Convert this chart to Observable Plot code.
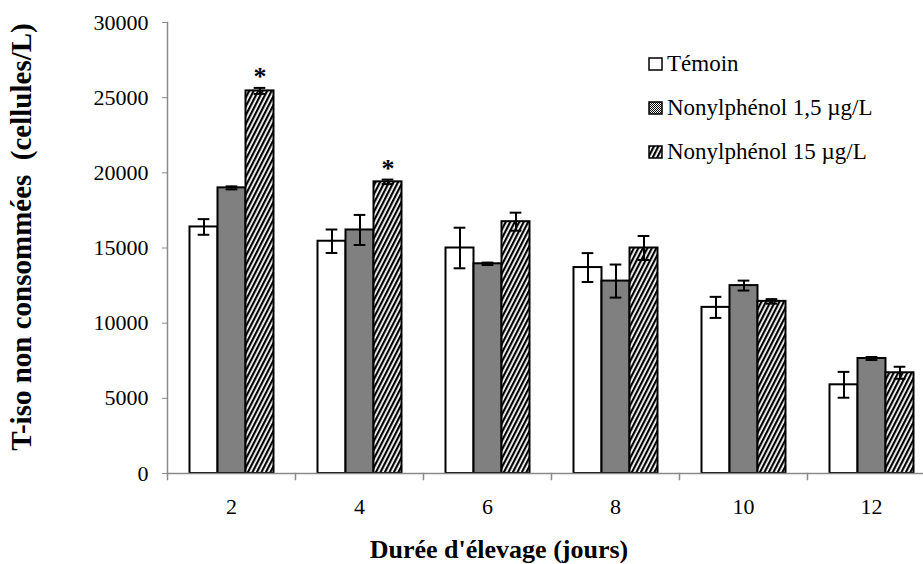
<!DOCTYPE html>
<html>
<head>
<meta charset="utf-8">
<script src="https://cdn.jsdelivr.net/npm/d3@7"></script>
<script src="https://cdn.jsdelivr.net/npm/@observablehq/plot@0.6"></script>
<style>
  html, body { margin: 0; padding: 0; background: #fff; overflow: hidden; }
  #chart { width: 923px; height: 564px; }
</style>
</head>
<body>
<div id="chart"></div>
<script>
// ---- data ----
const days = [2, 4, 6, 8, 10, 12];
const seriesNames = ["Témoin", "Nonylphénol 1,5 µg/L", "Nonylphénol 15 µg/L"];
const temoinMean = [16400, 15450, 15000, 13700, 11050, 5900];
const temoinErr  = [520, 780, 1350, 960, 700, 860];
const np1Mean    = [19000, 16200, 13950, 12800, 12500, 7650];
const np1Err     = [100, 1000, 80, 1100, 330, 100];
const np15Mean   = [25450, 19400, 16750, 15000, 11450, 6700];
const np15Err    = [200, 150, 600, 800, 150, 400];
const significantDays = [2, 4];
const yTicks = [0, 5000, 10000, 15000, 20000, 25000, 30000];
const xTitle = "Durée d'élevage (jours)";
const yTitle = "T-iso non consommées  (cellules/L)";

// ---- table built from the arrays ----
const means = [temoinMean, np1Mean, np15Mean];
const errs = [temoinErr, np1Err, np15Err];
const data = days.flatMap((day, i) =>
  seriesNames.map((series, k) => ({ day, series, v: means[k][i], e: errs[k][i] }))
);
const stars = data.filter(d => d.series === seriesNames[2] && significantDays.includes(d.day));

// ---- layout ----
const W = 923, H = 564, ML = 164.5, MR = -13.5, MT = 22, MB = 91;
const PO = 0.77;
const facetW = (W - ML - MR) / days.length;
const step = facetW / (seriesNames.length + 2 * PO);
const capW = 12;
const capInset = (step - capW) / 2;
const fills = ["white", "url(#pat-np1)", "url(#pat-np15)"];
const axisGray = "#8a8a8a";
const serif = "'Liberation Serif', 'Times New Roman', serif";

const svg = Plot.plot({
  width: W, height: H,
  marginLeft: ML, marginRight: MR, marginTop: MT, marginBottom: MB,
  style: { fontFamily: serif, fontSize: "22px", background: "white", color: "black" },
  fx: { domain: days, padding: 0, label: null },
  x: { domain: seriesNames, paddingInner: 0, paddingOuter: PO, axis: null },
  y: { domain: [0, 30000], axis: null },
  color: { type: "ordinal", domain: seriesNames, range: fills },
  marks: [
    Plot.barY(data, { fx: "day", x: "series", y: "v", fill: "series", stroke: "black", strokeWidth: 2 }),
    Plot.ruleX(data, { fx: "day", x: "series", y1: d => d.v - d.e, y2: d => d.v + d.e, stroke: "black", strokeWidth: 2 }),
    Plot.tickY(data, { fx: "day", x: "series", y: d => d.v - d.e, stroke: "black", strokeWidth: 2, insetLeft: capInset, insetRight: capInset }),
    Plot.tickY(data, { fx: "day", x: "series", y: d => d.v + d.e, stroke: "black", strokeWidth: 2, insetLeft: capInset, insetRight: capInset }),
    Plot.text(stars, { fx: "day", x: "series", y: d => d.v + d.e, text: () => "*", fontSize: 26, fontWeight: "bold", lineAnchor: "middle", dy: -11 }),
    Plot.ruleY([0], { stroke: axisGray, strokeWidth: 1.5 }),
    Plot.frame({ anchor: "left", stroke: axisGray, strokeWidth: 1.5, insetTop: H - MT - MB, insetBottom: -6 }),
    Plot.frame({ anchor: "left", stroke: axisGray, strokeWidth: 1.5, facetAnchor: "left" }),
    Plot.axisY({ ticks: yTicks, tickSize: 5, tickPadding: 14, tickFormat: d => String(d), fontSize: 22, stroke: axisGray, label: null }),
    Plot.axisFx({ anchor: "bottom", tickSize: 0, tickPadding: 25, fontSize: 22, label: null })
  ]
});

const root = d3.select(svg);
// hatch patterns
const defs = root.insert("defs", ":first-child");
const p1 = defs.append("pattern").attr("id", "pat-np1").attr("patternUnits", "userSpaceOnUse").attr("width", 2).attr("height", 2);
p1.append("rect").attr("width", 2).attr("height", 2).attr("fill", "white");
p1.append("rect").attr("width", 1).attr("height", 1).attr("fill", "black");
p1.append("rect").attr("x", 1).attr("y", 1).attr("width", 1).attr("height", 1).attr("fill", "black");
const p2 = defs.append("pattern").attr("id", "pat-np15").attr("patternUnits", "userSpaceOnUse")
  .attr("width", 4).attr("height", 4).attr("patternTransform", "rotate(27)");
p2.append("rect").attr("width", 4).attr("height", 4).attr("fill", "white");
p2.append("rect").attr("width", 2.2).attr("height", 4).attr("fill", "black");

// legend
const lg = root.append("g");
seriesNames.forEach((s, i) => {
  const by = 71 + i * 44;
  lg.append("rect").attr("x", 649).attr("y", by - 13).attr("width", 13).attr("height", 12)
    .attr("fill", fills[i]).attr("stroke", "black").attr("stroke-width", 1.5);
  lg.append("text").attr("x", 667).attr("y", by)
    .style("font-family", serif).style("font-size", "23px").style("fill", "black").style("text-anchor", "start")
    .text(s);
});

// axis titles
root.append("text").attr("x", 499).attr("y", 558)
  .style("text-anchor", "middle").style("font-family", serif).style("font-size", "26px")
  .style("font-weight", "bold").style("fill", "black").text(xTitle);
root.append("text").attr("transform", "translate(31,237) rotate(-90)")
  .style("text-anchor", "middle").style("font-family", serif).style("font-size", "29px")
  .style("font-weight", "bold").style("fill", "black").style("white-space", "pre").text(yTitle);

document.getElementById("chart").appendChild(svg);
</script>
</body>
</html>
